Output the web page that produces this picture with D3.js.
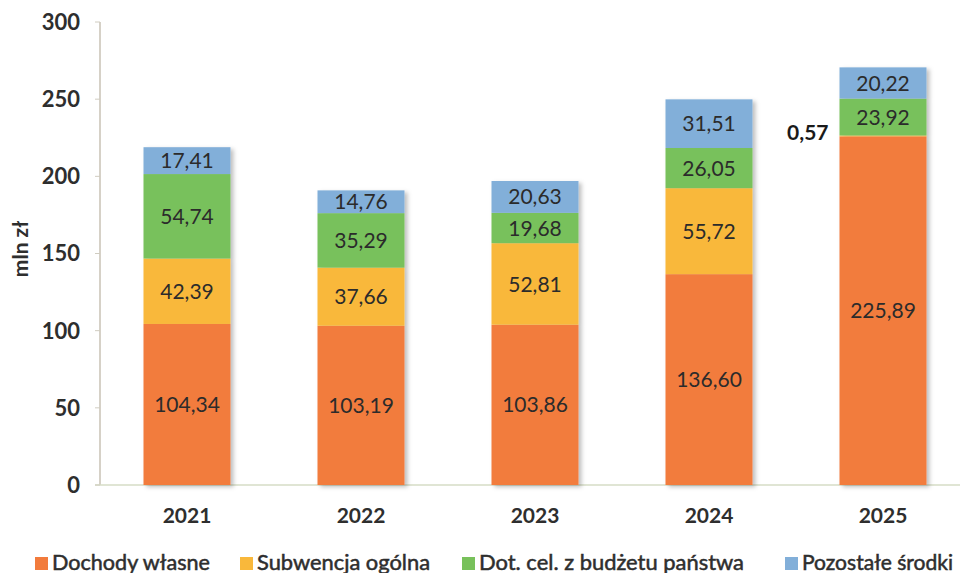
<html>
<head>
<meta charset="utf-8">
<script src="https://d3js.org/d3.v7.min.js"></script>
<style>
  body { margin: 0; background: #fff; }
  svg text { font-family: Lato, "Open Sans", sans-serif; }
</style>
</head>
<body>
<script>
// dane z wykresu (mln zł)
var years = ["2021", "2022", "2023", "2024", "2025"];
var seriesNames = ["Dochody własne", "Subwencja ogólna", "Dot. cel. z budżetu państwa", "Pozostałe środki"];
var dochody = [104.34, 103.19, 103.86, 136.60, 225.89];
var subwencja = [42.39, 37.66, 52.81, 55.72, 0.57];
var dotacje = [54.74, 35.29, 19.68, 26.05, 23.92];
var pozostale = [17.41, 14.76, 20.63, 31.51, 20.22];
var yTicks = [0, 50, 100, 150, 200, 250, 300];
var colors = ["#f27b3c", "#f9b83b", "#78c15b", "#82afd9"];

var width = 963, height = 573;
var svg = d3.select("body").append("svg")
  .attr("width", width).attr("height", height);

var defs = svg.append("defs");
var f = defs.append("filter").attr("id", "shadow")
  .attr("x", "-10%").attr("y", "-10%").attr("width", "130%").attr("height", "130%");
f.append("feDropShadow").attr("dx", 3).attr("dy", 2).attr("stdDeviation", 2)
  .attr("flood-color", "#000").attr("flood-opacity", 0.25);

var x = d3.scaleBand().domain(years).range([100, 970])
  .paddingInner(0.5).paddingOuter(0.25);
var y = d3.scaleLinear().domain([0, 300]).range([485, 22]);

var rows = years.map(function(yr, i) {
  return { year: yr, s0: dochody[i], s1: subwencja[i], s2: dotacje[i], s3: pozostale[i] };
});
var stack = d3.stack().keys(["s0", "s1", "s2", "s3"])(rows);

// oś Y
svg.append("line").attr("x1", 100).attr("x2", 100)
  .attr("y1", y(300)).attr("y2", y(0))
  .attr("stroke", "#c8c2b4").attr("stroke-width", 1.5);
svg.append("line").attr("x1", 95).attr("x2", 960)
  .attr("y1", y(0)).attr("y2", y(0))
  .attr("stroke", "#d6dcc6").attr("stroke-width", 1.5);

var yt = svg.append("g").selectAll("g").data(yTicks).enter().append("g");
yt.append("line").attr("x1", 95).attr("x2", 100)
  .attr("y1", function(d) { return y(d); }).attr("y2", function(d) { return y(d); })
  .attr("stroke", "#d0ccc0");
yt.append("text").attr("x", 80).attr("y", function(d) { return y(d); })
  .attr("dy", "0.36em").attr("text-anchor", "end")
  .style("font-size", "22px").style("font-weight", "bold").style("fill", "#2e2e2e")
  .text(function(d) { return d; });

svg.append("text")
  .attr("transform", "translate(28,249) rotate(-90)")
  .attr("text-anchor", "middle")
  .style("font-size", "21px").style("font-weight", "bold").style("fill", "#2e2e2e")
  .text("mln zł");

// słupki
var layers = svg.append("g").attr("filter", "url(#shadow)")
  .selectAll("g").data(stack).enter().append("g")
  .attr("fill", function(d, i) { return colors[i]; });
layers.selectAll("rect").data(function(d) { return d; }).enter().append("rect")
  .attr("x", function(d) { return x(d.data.year); })
  .attr("width", x.bandwidth())
  .attr("y", function(d) { return y(d[1]); })
  .attr("height", function(d) { return y(d[0]) - y(d[1]); });

// etykiety wartości
function fmt(v) { return v.toFixed(2).replace(".", ","); }
stack.forEach(function(layer, li) {
  layer.forEach(function(d) {
    var v = d[1] - d[0];
    var t = svg.append("text").style("font-size", "21px").text(fmt(v));
    if (v < 5) {
      t.attr("x", x(d.data.year) - 11).attr("y", y(d[1]) + 5)
        .attr("text-anchor", "end")
        .style("font-weight", "bold").style("fill", "#1a1a1a");
    } else {
      t.attr("x", x(d.data.year) + x.bandwidth() / 2)
        .attr("y", (y(d[0]) + y(d[1])) / 2).attr("dy", "0.36em")
        .attr("text-anchor", "middle").style("fill", "#2b2b2b");
    }
  });
});

// oś X
svg.append("g").selectAll("text").data(years).enter().append("text")
  .attr("x", function(d) { return x(d) + x.bandwidth() / 2; })
  .attr("y", 523).attr("text-anchor", "middle")
  .style("font-size", "21px").style("font-weight", "bold").style("fill", "#2e2e2e")
  .text(function(d) { return d; });

// legenda
var legX = [35, 240, 462, 785];
var legW = [158, 173, 265, 151];
var leg = svg.append("g").selectAll("g").data(seriesNames).enter().append("g")
  .attr("transform", function(d, i) { return "translate(" + legX[i] + ",557)"; });
leg.append("rect").attr("width", 13).attr("height", 13)
  .attr("fill", function(d, i) { return colors[i]; });
leg.append("text").attr("x", 17).attr("y", 13)
  .attr("textLength", function(d, i) { return legW[i]; })
  .attr("lengthAdjust", "spacingAndGlyphs")
  .style("font-size", "21px").style("fill", "#2e2e2e")
  .style("stroke", "#2e2e2e").style("stroke-width", 0.5)
  .text(function(d) { return d; });
</script>
</body>
</html>
